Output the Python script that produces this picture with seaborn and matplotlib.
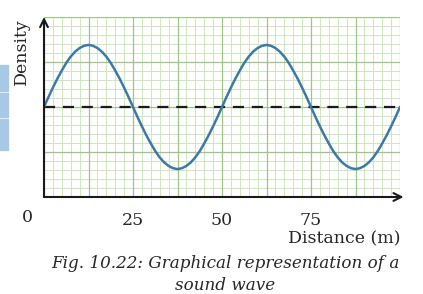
import numpy as np
import pandas as pd
import matplotlib.pyplot as plt
import seaborn as sns
from matplotlib.patches import Rectangle

# distance (m) and density, every 1.25 m
distance = [0, 1.25, 2.5, 3.75, 5, 6.25, 7.5, 8.75, 10, 11.25, 12.5, 13.75, 15, 16.25,
            17.5, 18.75, 20, 21.25, 22.5, 23.75, 25, 26.25, 27.5, 28.75, 30, 31.25, 32.5,
            33.75, 35, 36.25, 37.5, 38.75, 40, 41.25, 42.5, 43.75, 45, 46.25, 47.5, 48.75,
            50, 51.25, 52.5, 53.75, 55, 56.25, 57.5, 58.75, 60, 61.25, 62.5, 63.75, 65,
            66.25, 67.5, 68.75, 70, 71.25, 72.5, 73.75, 75, 76.25, 77.5, 78.75, 80, 81.25,
            82.5, 83.75, 85, 86.25, 87.5, 88.75, 90, 91.25, 92.5, 93.75, 95, 96.25, 97.5,
            98.75, 100]
density = [2.00, 2.22, 2.43, 2.63, 2.81, 2.98, 3.12, 3.23, 3.31, 3.36, 3.38, 3.36, 3.31,
           3.23, 3.12, 2.98, 2.81, 2.63, 2.43, 2.22, 2.00, 1.78, 1.57, 1.37, 1.19, 1.02,
           0.88, 0.77, 0.69, 0.64, 0.62, 0.64, 0.69, 0.77, 0.88, 1.02, 1.19, 1.37, 1.57,
           1.78, 2.00, 2.22, 2.43, 2.63, 2.81, 2.98, 3.12, 3.23, 3.31, 3.36, 3.38, 3.36,
           3.31, 3.23, 3.12, 2.98, 2.81, 2.63, 2.43, 2.22, 2.00, 1.78, 1.57, 1.37, 1.19,
           1.02, 0.88, 0.77, 0.69, 0.64, 0.62, 0.64, 0.69, 0.77, 0.88, 1.02, 1.19, 1.37,
           1.57, 1.78, 2.00]
mean_density = 2.0
x_ticks = [25, 50, 75]
x_labels = ['25', '50', '75']

sns.set_style('white')
plt.rcParams['font.family'] = ['DejaVu Serif']

df = pd.DataFrame({'Distance': distance, 'Density': density})

fig = plt.figure(figsize=(4.23, 2.94), dpi=100)
ax = fig.add_axes([44 / 423, 97 / 294, 356 / 423, 180 / 294])
ax.set_xlim(0, 100)
ax.set_ylim(0, 4)

# graph paper
minor_c = '#cfe6bf'
major_c = '#9fc488'
for gx in np.arange(0, 100.01, 2.5):
    if gx % 12.5:
        ax.axvline(gx, color=minor_c, lw=0.7, zorder=0)
for gy in np.arange(0, 4.01, 0.2):
    if round(gy, 2) % 1:
        ax.axhline(gy, color=minor_c, lw=0.7, zorder=0)
for gx in np.arange(0, 100.01, 12.5):
    ax.axvline(gx, color=major_c, lw=0.9, zorder=0)
for gy in np.arange(0, 4.01, 1.0):
    ax.axhline(gy, color=major_c, lw=0.9, zorder=0)

ax.axhline(mean_density, color='#1a1a1a', lw=1.6, ls=(0, (5, 3.5)), zorder=2)
sns.lineplot(data=df, x='Distance', y='Density', ax=ax, color='#3c7aa3', lw=1.8,
             zorder=3, solid_capstyle='round', solid_joinstyle='round')

for s in ax.spines.values():
    s.set_visible(False)
ax.annotate('', xy=(0, 1.0), xytext=(0, 0), xycoords='axes fraction',
            arrowprops=dict(arrowstyle='->', lw=1.5, color='#1a1a1a', mutation_scale=14,
                            shrinkA=0, shrinkB=0), annotation_clip=False)
ax.annotate('', xy=(1.01, 0), xytext=(0, 0), xycoords='axes fraction',
            arrowprops=dict(arrowstyle='->', lw=1.5, color='#1a1a1a', mutation_scale=14,
                            shrinkA=0, shrinkB=0), annotation_clip=False)

ax.set_yticks([])
ax.set_xticks(x_ticks)
ax.set_xticklabels(x_labels, fontsize=12.5)
ax.tick_params(axis='x', direction='out', length=6, width=1.2, color='#1a1a1a', pad=5)
ax.set_xlabel('')
ax.set_ylabel('')
ax.text(-4.8, -0.27, '0', ha='center', va='top', fontsize=12.5)

fig.text(21 / 423, 1 - 52 / 294, 'Density', rotation=90, ha='center', va='center', fontsize=12.5)
fig.text(400 / 423, 1 - 239 / 294, 'Distance (m)', ha='right', va='center', fontsize=12.5)
fig.text(225 / 423, 1 - 264 / 294, 'Fig. 10.22: Graphical representation of a',
         ha='center', va='center', fontsize=12.1, style='italic')
fig.text(225 / 423, 1 - 285 / 294, 'sound wave', ha='center', va='center',
         fontsize=12.1, style='italic')

# blue page strip on the left edge
for y0, h in [(65, 26), (93, 24), (119, 31)]:
    fig.patches.append(Rectangle((0, 1 - (y0 + h) / 294), 8 / 423, h / 294,
                                 transform=fig.transFigure, color='#a9c8e3'))

fig.savefig('out.png', dpi=100)
